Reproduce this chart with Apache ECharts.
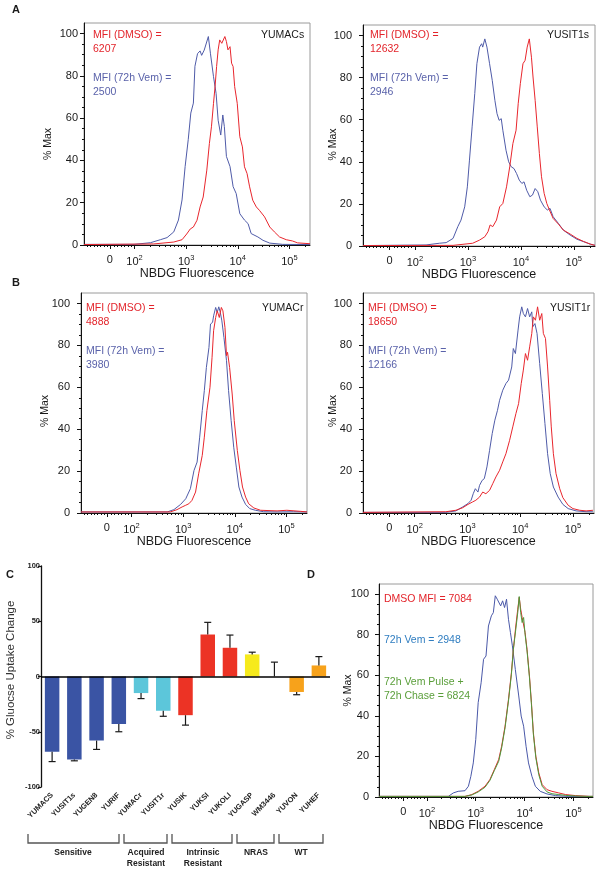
<!DOCTYPE html>
<html><head><meta charset="utf-8">
<script src="https://cdn.jsdelivr.net/npm/echarts@6/dist/echarts.min.js"></script>
<style>html,body{margin:0;padding:0;background:#fff}#c{width:601px;height:870px}</style>
</head><body><div id="c"></div>
<script>
// ---------- DATA ----------
// Histogram points: [x = log10 display position of NBDG fluorescence, y = % Max]
const yumacsDmso = [[1.02,0.2],[2.37,0.5],[2.76,1.4],[2.92,2.5],[3.01,5.2],[3.08,7.6],[3.14,8.5],[3.21,11.7],[3.27,18.0],[3.33,22.7],[3.40,35.4],[3.45,48.0],[3.49,55.9],[3.53,67.0],[3.56,74.9],[3.59,84.4],[3.62,92.3],[3.65,97.0],[3.69,95.4],[3.72,96.2],[3.75,98.6],[3.78,96.2],[3.81,92.3],[3.85,93.8],[3.88,86.0],[3.91,84.4],[3.94,74.9],[3.99,67.0],[4.04,51.2],[4.09,46.4],[4.13,37.0],[4.18,33.8],[4.23,27.5],[4.29,21.2],[4.36,18.0],[4.42,16.4],[4.52,13.3],[4.62,8.5],[4.71,6.2],[4.81,3.8],[4.94,2.5],[5.06,1.9],[5.16,1.0],[5.40,0.6]];
const yumacsVem = [[1.02,0.3],[1.99,0.3],[2.31,1.1],[2.50,2.5],[2.63,3.5],[2.76,6.2],[2.85,11.8],[2.92,21.3],[2.98,37.1],[3.04,49.8],[3.09,62.4],[3.14,67.1],[3.17,84.5],[3.22,90.5],[3.27,91.8],[3.30,89.7],[3.35,92.2],[3.38,91.3],[3.43,98.6],[3.47,90.7],[3.53,79.6],[3.58,71.7],[3.62,59.0],[3.67,52.0],[3.71,61.5],[3.74,56.0],[3.78,41.9],[3.85,37.1],[3.91,27.6],[3.97,24.3],[4.04,14.8],[4.13,11.8],[4.20,10.1],[4.26,5.4],[4.39,3.8],[4.49,2.2],[4.62,0.9],[4.87,0.3],[5.40,0.2]];
const yusit1sDmso = [[1.02,0.2],[2.72,0.3],[3.09,1.3],[3.22,2.8],[3.32,4.4],[3.38,6.8],[3.42,10.0],[3.47,9.2],[3.54,12.3],[3.60,18.6],[3.66,20.2],[3.73,28.1],[3.79,37.6],[3.85,48.7],[3.91,55.0],[3.95,67.6],[3.99,77.1],[4.04,86.6],[4.08,88.2],[4.12,94.5],[4.16,98.4],[4.20,89.7],[4.23,80.3],[4.27,69.2],[4.31,56.6],[4.35,43.9],[4.39,32.9],[4.44,25.0],[4.49,20.2],[4.54,17.1],[4.61,13.1],[4.71,10.4],[4.80,7.6],[4.93,5.7],[5.06,3.6],[5.18,2.2],[5.31,0.9],[5.40,0.3]];
const yusit1sVem = [[1.02,0.2],[2.21,0.5],[2.46,1.3],[2.59,1.6],[2.72,3.6],[2.81,9.2],[2.87,12.3],[2.94,18.6],[2.99,28.1],[3.03,40.8],[3.08,56.6],[3.13,72.4],[3.17,86.6],[3.22,94.5],[3.26,96.1],[3.28,94.5],[3.32,98.4],[3.36,94.5],[3.41,86.6],[3.46,78.7],[3.51,69.2],[3.55,62.9],[3.59,59.7],[3.63,60.5],[3.66,55.0],[3.72,45.5],[3.77,40.0],[3.82,37.6],[3.87,36.8],[3.92,34.4],[3.97,31.3],[4.02,29.7],[4.06,30.5],[4.11,26.5],[4.17,23.4],[4.22,24.2],[4.27,27.3],[4.32,25.8],[4.37,21.8],[4.44,18.6],[4.50,17.1],[4.55,17.9],[4.61,13.9],[4.71,10.7],[4.80,7.6],[4.93,5.2],[5.06,3.2],[5.18,2.1],[5.31,0.9],[5.40,0.3]];
const yumacrDmso = [[1.02,0.5],[2.75,0.5],[2.88,1.6],[2.98,2.9],[3.05,3.7],[3.11,4.4],[3.17,6.0],[3.24,10.0],[3.30,18.7],[3.37,27.5],[3.41,36.2],[3.46,48.9],[3.52,60.0],[3.56,74.3],[3.59,87.0],[3.63,93.3],[3.66,96.5],[3.70,93.3],[3.74,98.1],[3.77,96.5],[3.81,88.6],[3.84,75.1],[3.86,76.7],[3.90,69.5],[3.95,56.8],[3.99,44.1],[4.05,29.8],[4.10,20.3],[4.15,12.4],[4.21,7.6],[4.27,4.4],[4.37,2.4],[4.50,1.3],[4.82,1.0],[5.01,1.3],[5.27,0.8],[5.40,0.5]];
const yumacrVem = [[1.02,0.5],[2.69,0.5],[2.82,1.6],[2.95,4.1],[3.05,6.8],[3.14,11.6],[3.21,20.3],[3.27,24.3],[3.32,36.2],[3.37,48.9],[3.41,58.4],[3.45,69.5],[3.50,79.0],[3.53,90.2],[3.57,91.0],[3.59,94.1],[3.63,98.1],[3.66,95.7],[3.69,98.4],[3.72,95.7],[3.75,91.7],[3.79,83.8],[3.84,72.7],[3.88,58.4],[3.93,44.1],[3.98,31.4],[4.03,21.9],[4.08,12.4],[4.14,7.6],[4.21,4.1],[4.29,2.1],[4.40,1.3],[4.56,0.6],[4.82,0.5],[5.14,0.6],[5.40,0.5]];
const yusit1rDmso = [[1.02,0.3],[2.59,0.6],[2.78,1.3],[2.91,2.5],[3.01,4.1],[3.10,5.3],[3.16,6.1],[3.23,7.6],[3.29,10.0],[3.35,9.2],[3.42,10.8],[3.48,14.0],[3.54,17.2],[3.61,20.4],[3.67,24.4],[3.73,28.3],[3.80,34.7],[3.86,41.1],[3.92,47.5],[3.97,52.2],[4.02,61.8],[4.06,68.2],[4.10,76.1],[4.14,72.9],[4.18,79.3],[4.22,85.7],[4.25,93.6],[4.29,92.0],[4.33,98.4],[4.37,92.0],[4.41,95.2],[4.44,85.7],[4.48,83.3],[4.52,69.7],[4.56,53.8],[4.59,41.1],[4.63,28.3],[4.68,18.8],[4.75,11.6],[4.81,7.3],[4.91,3.7],[5.00,2.1],[5.13,1.3],[5.25,1.0],[5.38,1.3]];
const yusit1rVem = [[1.02,0.3],[2.59,0.3],[2.78,1.0],[2.91,2.9],[3.01,4.5],[3.07,6.1],[3.11,9.2],[3.15,11.6],[3.20,10.0],[3.23,13.2],[3.28,15.6],[3.32,16.4],[3.37,22.0],[3.42,29.9],[3.47,37.9],[3.52,44.3],[3.57,49.0],[3.61,53.8],[3.67,58.6],[3.73,61.8],[3.78,63.4],[3.84,69.7],[3.87,78.5],[3.91,76.1],[3.96,87.3],[3.99,93.6],[4.03,98.4],[4.06,95.2],[4.10,93.6],[4.14,97.6],[4.18,93.6],[4.22,96.0],[4.24,88.9],[4.28,90.4],[4.32,85.7],[4.37,71.3],[4.42,57.0],[4.47,42.7],[4.52,28.3],[4.57,18.8],[4.63,12.4],[4.72,7.6],[4.81,4.1],[4.91,2.1],[5.06,1.0],[5.25,0.6],[5.38,0.6]];
const pulseDmso = [[1.02,0.3],[2.78,0.3],[2.92,1.2],[3.05,2.8],[3.19,5.3],[3.29,8.6],[3.38,13.5],[3.47,18.5],[3.53,25.0],[3.60,34.9],[3.67,48.1],[3.73,61.3],[3.77,72.8],[3.82,84.3],[3.86,92.6],[3.89,98.4],[3.92,92.6],[3.95,88.5],[3.98,87.6],[4.01,81.1],[4.05,72.8],[4.10,59.6],[4.14,46.5],[4.18,31.6],[4.23,20.1],[4.29,11.9],[4.36,6.1],[4.46,3.6],[4.56,2.8],[4.70,2.0],[4.84,1.2],[5.04,0.7],[5.32,0.3],[5.40,0.3]];
const pulseVem = [[1.02,0.3],[2.44,0.3],[2.54,2.0],[2.64,2.8],[2.78,3.1],[2.85,5.3],[2.90,10.2],[2.95,16.8],[3.00,28.3],[3.05,46.5],[3.11,56.3],[3.16,67.9],[3.21,69.5],[3.26,84.3],[3.32,89.3],[3.36,90.9],[3.40,99.2],[3.44,97.5],[3.48,98.4],[3.51,94.2],[3.55,96.7],[3.59,93.4],[3.63,97.5],[3.67,87.6],[3.71,81.1],[3.75,74.5],[3.81,62.9],[3.88,49.8],[3.93,39.9],[3.98,34.9],[4.03,25.0],[4.08,16.8],[4.15,10.2],[4.22,5.3],[4.32,2.8],[4.46,1.5],[4.63,0.7],[4.90,0.3],[5.40,0.3]];
const pulseChase = [[1.02,0.3],[2.78,0.3],[2.92,1.0],[3.05,2.5],[3.19,4.8],[3.29,8.2],[3.38,13.0],[3.47,17.6],[3.53,24.2],[3.60,34.1],[3.67,47.3],[3.73,60.5],[3.77,72.8],[3.82,82.7],[3.86,90.9],[3.89,98.8],[3.92,90.9],[3.95,86.0],[3.98,88.5],[4.01,80.2],[4.05,72.0],[4.10,58.8],[4.14,45.6],[4.18,30.8],[4.23,19.3],[4.29,11.0],[4.36,5.3],[4.46,2.5],[4.56,1.6],[4.70,1.2],[4.84,0.8],[5.04,0.5],[5.32,0.3],[5.40,0.3]];

// Axis tick labels
const xTickPos = [1.52, 2, 3, 4, 5];
const xTickText = ['0', '10|2', '10|3', '10|4', '10|5'];
const yTickVals = [0, 20, 40, 60, 80, 100];

// Panel C: glucose uptake change
const cellLines = ['YUMACS','YUSIT1s','YUGEN8','YURIF','YUMACr','YUSIT1r','YUSIK','YUKSI','YUKOLI','YUGASP','WM3446','YUVON','YUHEF'];
const glucoseChange = [-68, -75, -58, -43, -15, -31, -35, 38, 26, 20, 0, -14, 10];
const glucoseSem = [9, 1.3, 8, 7, 5, 5, 9, 11, 11.5, 2, 13, 2.5, 8];
const cellGroup = [0,0,0,0,1,1,2,2,2,3,3,4,4];
const groupNames = ['Sensitive','Acquired\nResistant','Intrinsic\nResistant','NRAS','WT'];
const cTickVals = [-100, -50, 0, 50, 100];

// ---------- STYLE / LAYOUT ----------
const FONT = "'Liberation Sans', Arial, sans-serif";
const RED = '#E8262D', BLUE = '#4F5BA8', GREEN = '#4E9A3C', BLUE_D = '#4A58A8';
const RED_T = '#E3242B', BLUE_T = '#5A62AA';
const groupColors = ['#3A54A4', '#5CC6DA', '#EC3325', '#F6EA1C', '#F7A21B'];
const X_MIN = 1.02, X_MAX = 5.40;

const xMinorTicks = [];
for (let v = 1.08; v < 1.98; v += 0.066) { if (Math.abs(v - 1.52) > 0.03) xMinorTicks.push(+v.toFixed(3)); }
for (let d = 2; d <= 5; d++) for (let k = 2; k <= 9; k++) { const p = d + Math.log10(k); if (p < X_MAX) xMinorTicks.push(+p.toFixed(3)); }
const yMinorTicks = [];
for (let v = 5; v < 105; v += 5) if (v % 20) yMinorTicks.push(v);

// rect: left, top, width, height; ym: y label margin; nx/ny: "% Max" offset
const panels = [
  {rect:[84,23,226,222], ym:6, nx:36, ny:10, curves:[[yumacsVem,BLUE],[yumacsDmso,RED]]},
  {rect:[363,25,232,221], ym:11, nx:30, ny:9, curves:[[yusit1sVem,BLUE],[yusit1sDmso,RED]]},
  {rect:[81,293,226,220], ym:11, nx:36, ny:8, curves:[[yumacrVem,BLUE],[yumacrDmso,RED]]},
  {rect:[363,293,231,220], ym:11, nx:30, ny:8, curves:[[yusit1rVem,BLUE],[yusit1rDmso,RED]]},
  {rect:[379,584,214,213], ym:10, nx:31, ny:0, curves:[[pulseVem,BLUE_D],[pulseDmso,RED],[pulseChase,GREEN]]}
];

const grids = [], xAxes = [], yAxes = [], series = [], graphics = [];

function txt(x, y, text, o) {
  o = o || {};
  const size = o.size || 10.5, weight = o.weight || 'normal', align = o.align || 'left';
  return {type:'text', x:x, y:y, rotation:o.rot || 0, silent:true, z:100,
    style:{text:text, fill:o.color || '#1a1a1a', font: weight + ' ' + size + 'px ' + FONT,
      align:align, verticalAlign:'middle', textAlign:align, textVerticalAlign:'middle', lineHeight:o.lh || size * 1.2}};
}

panels.forEach((p, i) => {
  const [l, t, w, h] = p.rect;
  grids.push({left:l, top:t, width:w, height:h, show:true, borderColor:'#9a9a9a', borderWidth:1, outerBoundsMode:'none'});
  xAxes.push({gridIndex:i, type:'value', min:X_MIN, max:X_MAX, position:'bottom',
    axisLine:{show:true, onZero:false, lineStyle:{color:'#111', width:1}},
    axisTick:{show:true, customValues:xTickPos, length:4, lineStyle:{color:'#111'}},
    axisLabel:{show:true, customValues:xTickPos, margin:9, hideOverlap:false,
      formatter:(v) => { const k = xTickPos.findIndex(q => Math.abs(q - v) < 0.01); const s = xTickText[k] || ''; const parts = s.split('|'); return parts.length > 1 ? '{b|' + parts[0] + '}{s|' + parts[1] + '}' : '{b|' + parts[0] + '}'; },
      rich:{b:{fontSize:11, color:'#1a1a1a', fontFamily:FONT}, s:{fontSize:7.5, color:'#1a1a1a', fontFamily:FONT, padding:[0,0,8,0]}}},
    splitLine:{show:false}});
  xAxes.push({gridIndex:i, type:'value', min:X_MIN, max:X_MAX, position:'bottom',
    axisLine:{show:false, onZero:false}, axisTick:{show:true, customValues:xMinorTicks, length:2, lineStyle:{color:'#111'}},
    axisLabel:{show:false}, splitLine:{show:false}});
  yAxes.push({gridIndex:i, type:'value', min:0, max:105, position:'left',
    axisLine:{show:true, lineStyle:{color:'#111', width:1}},
    axisTick:{show:true, customValues:yTickVals, length:4, lineStyle:{color:'#111'}},
    axisLabel:{show:true, customValues:yTickVals, margin:p.ym, fontSize:11, color:'#1a1a1a', fontFamily:FONT},
    splitLine:{show:false}});
  yAxes.push({gridIndex:i, type:'value', min:0, max:105, position:'left',
    axisLine:{show:false}, axisTick:{show:true, customValues:yMinorTicks, length:2, lineStyle:{color:'#111'}},
    axisLabel:{show:false}, splitLine:{show:false}});
  p.curves.forEach(([data, color]) => {
    series.push({type:'line', xAxisIndex:2*i, yAxisIndex:2*i, data:data, showSymbol:false, symbol:'none',
      lineStyle:{color:color, width:1}, itemStyle:{color:color}, silent:true, clip:true});
  });
  // axis titles
  graphics.push(txt(l + w / 2, t + h + 29, 'NBDG Fluorescence', {size:12.5, align:'center'}));
  graphics.push(txt(l - p.nx, t + h / 2 + p.ny, '% Max', {size:10.5, align:'center', rot:Math.PI / 2}));
});

// Panel C
const cGrid = grids.length;
grids.push({left:41, top:566, width:289, height:221, show:false, outerBoundsMode:'none'});
xAxes.push({gridIndex:cGrid, type:'category', data:cellLines, position:'bottom',
  axisLine:{show:false, onZero:false}, axisTick:{show:false},
  axisLabel:{interval:0, rotate:45, margin:7, fontSize:7.5, fontWeight:'bold', color:'#222', fontFamily:FONT}});
yAxes.push({gridIndex:cGrid, type:'value', min:-100, max:100, position:'left',
  axisLine:{show:true, lineStyle:{color:'#111', width:1.3}},
  axisTick:{show:true, customValues:cTickVals, length:3, lineStyle:{color:'#111', width:1.2}},
  axisLabel:{customValues:cTickVals, margin:1, fontSize:7.5, fontWeight:'bold', color:'#222', fontFamily:FONT},
  splitLine:{show:false}});
series.push({type:'bar', xAxisIndex:xAxes.length - 1, yAxisIndex:yAxes.length - 1, barWidth:14.5,
  data:glucoseChange.map((v, i) => ({value:v, itemStyle:{color:groupColors[cellGroup[i]]}})), silent:true,
  markLine:{silent:true, symbol:'none', label:{show:false}, lineStyle:{color:'#000', width:1.5, type:'solid'}, data:[{yAxis:0}]}});
series.push({type:'custom', xAxisIndex:xAxes.length - 1, yAxisIndex:yAxes.length - 1, silent:true, z:5,
  encode:{x:0, y:[1, 2]},
  data:glucoseChange.map((v, i) => [i, v, v + (v >= 0 ? 1 : -1) * glucoseSem[i]]),
  renderItem:(params, api) => {
    const a = api.coord([api.value(0), api.value(1)]);
    const b = api.coord([api.value(0), api.value(2)]);
    const st = {stroke:'#1a1a1a', lineWidth:1.2};
    return {type:'group', children:[
      {type:'line', shape:{x1:a[0], y1:a[1], x2:b[0], y2:b[1]}, style:st},
      {type:'line', shape:{x1:b[0] - 3.5, y1:b[1], x2:b[0] + 3.5, y2:b[1]}, style:st}]};
  }});

// Group brackets and labels (panel C)
const brackets = [[28,119,73],[124,167,146],[172,232,203],[237,274,256],[279,323,301]];
brackets.forEach(([x1, x2, cx], g) => {
  graphics.push({type:'polyline', silent:true, shape:{points:[[x1,834],[x1,843],[x2,843],[x2,834]]}, style:{stroke:'#555', lineWidth:1.3, fill:null}});
  graphics.push({type:'text', x:cx, y:847, silent:true, style:{text:groupNames[g], fill:'#222', font:'bold 8.5px ' + FONT, align:'center', verticalAlign:'top', textAlign:'center', textVerticalAlign:'top', lineHeight:11}});
});
graphics.push(txt(11, 670, '% Gluocse Uptake Change', {size:11.5, align:'center', rot:Math.PI / 2, color:'#333'}));

// Panel letters
graphics.push(txt(12, 10, 'A', {size:11, weight:'bold'}));
graphics.push(txt(12, 283, 'B', {size:11, weight:'bold'}));
graphics.push(txt(6, 575, 'C', {size:11, weight:'bold'}));
graphics.push(txt(307, 575, 'D', {size:11, weight:'bold'}));

// Annotations
const ann = [
  [93, 35, 'MFI (DMSO) =', RED_T], [93, 49, '6207', RED_T], [93, 78, 'MFI (72h Vem) =', BLUE_T], [93, 92, '2500', BLUE_T], [261, 35, 'YUMACs', '#1a1a1a'],
  [370, 35, 'MFI (DMSO) =', RED_T], [370, 49, '12632', RED_T], [370, 78, 'MFI (72h Vem) =', BLUE_T], [370, 92, '2946', BLUE_T], [547, 35, 'YUSIT1s', '#1a1a1a'],
  [86, 308, 'MFI (DMSO) =', RED_T], [86, 322, '4888', RED_T], [86, 351, 'MFI (72h Vem) =', BLUE_T], [86, 365, '3980', BLUE_T], [262, 308, 'YUMACr', '#1a1a1a'],
  [368, 308, 'MFI (DMSO) =', RED_T], [368, 322, '18650', RED_T], [368, 351, 'MFI (72h Vem) =', BLUE_T], [368, 365, '12166', BLUE_T], [550, 308, 'YUSIT1r', '#1a1a1a'],
  [384, 599, 'DMSO MFI = 7084', RED_T], [384, 640, '72h Vem = 2948', '#2F7DC0'], [384, 682, '72h Vem Pulse +', '#5A9E3A'], [384, 696, '72h Chase = 6824', '#5A9E3A']
];
ann.forEach(([x, y, t, c]) => graphics.push(txt(x, y, t, {color:c, size:10.5})));

const chart = echarts.init(document.getElementById('c'), null, {renderer:'canvas'});
chart.setOption({animation:false, backgroundColor:'#fff', grid:grids, xAxis:xAxes, yAxis:yAxes, series:series, graphic:{elements:graphics}});
</script></body></html>
